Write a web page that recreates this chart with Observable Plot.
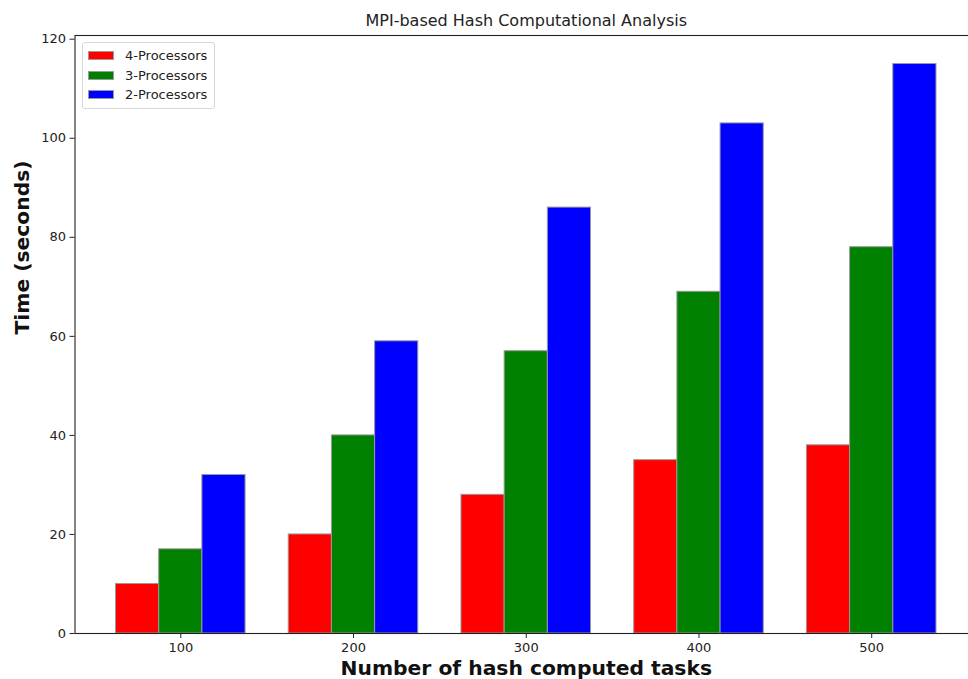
<!DOCTYPE html>
<html>
<head>
<meta charset="utf-8">
<script src="https://cdn.jsdelivr.net/npm/d3@7"></script>
<script src="https://cdn.jsdelivr.net/npm/@observablehq/plot@0.6"></script>
<style>
  html, body { margin: 0; padding: 0; background: #fff; }
  #wrap { position: relative; width: 968px; height: 679px; overflow: hidden; font-family: "DejaVu Sans", sans-serif; }
  #legend { position: absolute; left: 82px; top: 42px; width: 131px; padding: 3px 0 3px 0;
    border: 1px solid #d8d8d8; border-radius: 3px; background: rgba(255,255,255,0.85); }
  .row { display: flex; align-items: center; height: 19.5px; font-size: 13px; color: #222; }
  .sw { width: 26px; height: 9px; margin-left: 5px; margin-right: 11px; box-sizing: border-box; border: 1px solid #999; }
</style>
</head>
<body>
<div id="wrap"></div>
<script>
const title = "MPI-based Hash Computational Analysis";
const xLabel = "Number of hash computed tasks";
const yLabel = "Time (seconds)";
const tasks = [100, 200, 300, 400, 500];
const series = ["4-Processors", "3-Processors", "2-Processors"];
const colors = ["red", "green", "blue"];
const proc4 = [10, 20, 28, 35, 38];
const proc3 = [17, 40, 57, 69, 78];
const proc2 = [32, 59, 86, 103, 115];
const yTicks = [0, 20, 40, 60, 80, 100, 120];
const barWidth = 0.25;

const values = [proc4, proc3, proc2];
const rows = [];
series.forEach((s, j) => {
  tasks.forEach((t, i) => rows.push({i, j, task: t, series: s, value: values[j][i]}));
});

const plot = Plot.plot({
  width: 968,
  height: 679,
  marginLeft: 74.5,
  marginRight: -9,
  marginTop: 35,
  marginBottom: 46,
  style: {fontFamily: "DejaVu Sans, sans-serif", color: "#222", background: "white", overflow: "visible"},
  x: {domain: [-0.6125, 4.6125], label: null},
  y: {domain: [0, 120.75], label: null},
  color: {domain: series, range: colors},
  marks: [
    Plot.rectY(rows, {
      x1: d => d.i + (d.j - 1.5) * barWidth,
      x2: d => d.i + (d.j - 0.5) * barWidth,
      y1: 0,
      y2: "value",
      fill: "series",
      stroke: "#999",
      strokeWidth: 1,
      inset: 0
    }),
    Plot.frame({stroke: "#222", strokeWidth: 1.1}),
    Plot.axisY({ticks: yTicks, tickSize: 5, tickPadding: 4, fontSize: 13, label: null, stroke: "#222"}),
    Plot.axisX({ticks: d3.range(tasks.length), tickFormat: i => tasks[i], tickSize: 5, tickPadding: 4, fontSize: 13, label: null, stroke: "#222"}),
    Plot.text([title], {text: d => d, frameAnchor: "top", lineAnchor: "middle", dy: -15, fontSize: 16, fill: "#222"}),
    Plot.text([xLabel], {text: d => d, frameAnchor: "bottom", lineAnchor: "middle", dy: 35, fontSize: 20.3, fontWeight: "bold", fill: "#111"}),
    Plot.text([yLabel], {text: d => d, frameAnchor: "left", lineAnchor: "middle", dx: -52.5, rotate: -90, fontSize: 20.3, fontWeight: "bold", fill: "#111"})
  ]
});

const wrap = document.getElementById("wrap");
wrap.appendChild(plot);

const legend = document.createElement("div");
legend.id = "legend";
series.forEach((s, j) => {
  const row = document.createElement("div");
  row.className = "row";
  const sw = document.createElement("div");
  sw.className = "sw";
  sw.style.background = colors[j];
  const lab = document.createElement("span");
  lab.textContent = s;
  row.appendChild(sw);
  row.appendChild(lab);
  legend.appendChild(row);
});
wrap.appendChild(legend);
</script>
</body>
</html>
